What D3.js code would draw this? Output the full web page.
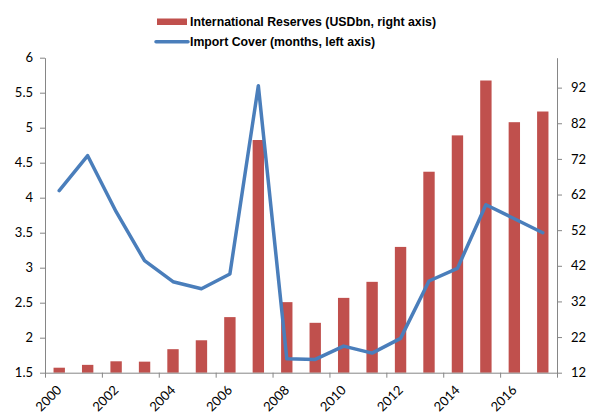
<!DOCTYPE html>
<html lang="en">
  <head>
    <meta charset="UTF-8" />
    <title>Reserves and Import Cover</title>
    <script src="https://d3js.org/d3.v7.min.js"></script>
    <style>
      body { margin: 0; background: #fff; }
    </style>
  </head>
  <body>
    <svg width="589" height="414" id="chart"></svg>

    <script>
      // Data
      const years = [2000, 2001, 2002, 2003, 2004, 2005, 2006, 2007, 2008,
                     2009, 2010, 2011, 2012, 2013, 2014, 2015, 2016, 2017];
      // International reserves, USD bn (right axis)
      const reserves = [13.4, 14.2, 15.2, 15.1, 18.6, 21.1, 27.6, 77.3, 31.8,
                        26.0, 33.0, 37.5, 47.3, 68.4, 78.6, 94.0, 82.3, 85.3];
      // Import cover, months (left axis)
      const importCover = [4.1, 4.6, 3.8, 3.1, 2.8, 2.7, 2.91, 5.6, 1.7,
                           1.69, 1.88, 1.78, 1.99, 2.81, 2.99, 3.9, 3.7, 3.5];
      const leftTicks = [1.5, 2, 2.5, 3, 3.5, 4, 4.5, 5, 5.5, 6];
      const rightTicks = [12, 22, 32, 42, 52, 62, 72, 82, 92];
      const yearLabels = years.filter((y) => y % 2 === 0);

      const svg = d3.select("#chart");
      const plot = { left: 45, right: 557, top: 57.7, bottom: 372.7 };
      const axisColor = "#868686";
      const numFont = "Lato, 'Open Sans', sans-serif";

      // Scales
      const x = d3.scaleBand()
        .domain(years)
        .range([plot.left, plot.right])
        .paddingInner(0.6)
        .paddingOuter(0.3);
      const xIdx = d3.scaleLinear().domain([0, years.length]).range([plot.left, plot.right]);
      const yLeft = d3.scaleLinear().domain([1.5, 6]).range([plot.bottom, plot.top]);
      const yRight = d3.scaleLinear().domain([12, 100.4]).range([plot.bottom, plot.top]);

      // Bars
      svg.append("g")
        .selectAll("rect")
        .data(years)
        .join("rect")
        .attr("x", (d) => x(d))
        .attr("width", x.bandwidth())
        .attr("y", (d, i) => yRight(reserves[i]))
        .attr("height", (d, i) => yRight(12) - yRight(reserves[i]))
        .attr("fill", "#C0504D");

      // Line
      const line = d3.line()
        .x((d, i) => x(years[i]) + x.bandwidth() / 2)
        .y((d) => yLeft(d));

      svg.append("path")
        .datum(importCover)
        .attr("d", line)
        .attr("fill", "none")
        .attr("stroke", "#4A7EBB")
        .attr("stroke-width", 3.5)
        .attr("stroke-linejoin", "round")
        .attr("stroke-linecap", "round");

      // Axes
      const styleAxis = (g) => {
        g.selectAll("path, line").attr("stroke", axisColor);
        g.selectAll("text")
          .attr("fill", "#000")
          .style("font-family", numFont)
          .style("font-size", "13px");
      };

      svg.append("g")
        .attr("transform", `translate(${plot.left},0)`)
        .call(d3.axisLeft(yLeft).tickValues(leftTicks).tickFormat(d3.format("~g"))
          .tickSize(5).tickSizeOuter(0).tickPadding(7))
        .call(styleAxis);

      svg.append("g")
        .attr("transform", `translate(${plot.right},0)`)
        .call(d3.axisRight(yRight).tickValues(rightTicks)
          .tickSize(5).tickSizeOuter(0).tickPadding(9))
        .call(styleAxis);

      svg.append("g")
        .attr("transform", `translate(0,${plot.bottom})`)
        .call(d3.axisBottom(xIdx).tickValues(d3.range(0, years.length + 1, 2))
          .tickFormat("").tickSize(5).tickSizeOuter(0))
        .call(styleAxis);

      // Rotated year labels
      svg.append("g")
        .selectAll("text")
        .data(yearLabels)
        .join("text")
        .attr("transform", (d) => `translate(${x(d) + x.bandwidth() / 2},${plot.bottom + 15}) rotate(-45)`)
        .attr("text-anchor", "end")
        .attr("dy", "0.35em")
        .style("font-family", numFont)
        .style("font-size", "13px")
        .text((d) => d);

      // Legend
      const legend = svg.append("g")
        .style("font-family", "'Liberation Sans', Arial, sans-serif")
        .style("font-size", "12.3px")
        .style("font-weight", "bold");

      legend.append("rect")
        .attr("x", 157).attr("y", 18.5).attr("width", 30).attr("height", 6.5)
        .attr("fill", "#C0504D");
      legend.append("text")
        .attr("x", 190).attr("y", 25.5)
        .text("International Reserves (USDbn, right axis)");

      legend.append("line")
        .attr("x1", 156).attr("x2", 188).attr("y1", 41.7).attr("y2", 41.7)
        .attr("stroke", "#4A7EBB").attr("stroke-width", 3.5)
        .attr("stroke-linecap", "round");
      legend.append("text")
        .attr("x", 190).attr("y", 46)
        .text("Import Cover (months, left axis)");
    </script>
  </body>
</html>
